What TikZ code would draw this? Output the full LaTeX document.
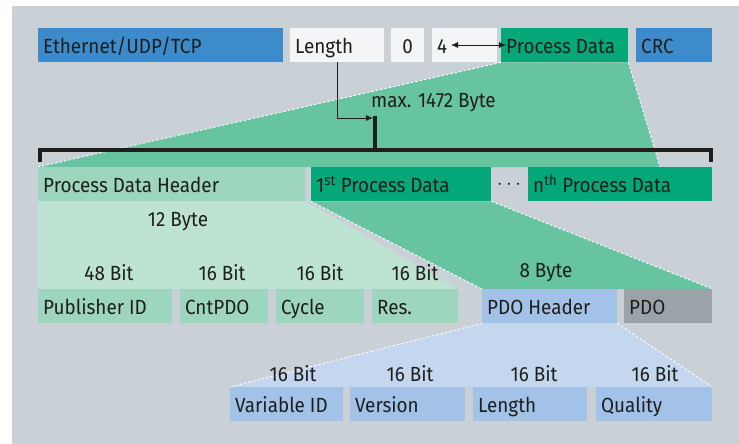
\documentclass[tikz,border=0pt]{standalone}
\usepackage{fontspec}
\setmainfont{Fira Sans}[FakeStretch=0.92]
\usetikzlibrary{arrows.meta}
\pgfdeclarelayer{back}
\pgfdeclarelayer{fan}
\pgfsetlayers{back,fan,main}
\newcommand{\boxtxt}[2]{\makebox[#1][l]{#2}}
\definecolor{bg}{HTML}{C9D0D6}
\definecolor{eblue}{HTML}{3D8BCB}
\definecolor{wbox}{HTML}{F3F5F6}
\definecolor{dgreen}{HTML}{04A777}
\definecolor{mgreen}{HTML}{66C4A0}
\definecolor{lgreen}{HTML}{9DD6BD}
\definecolor{vlgreen}{HTML}{BEE3D2}
\definecolor{lblue}{HTML}{A2C3E7}
\definecolor{vlblue}{HTML}{C4D7EE}
\definecolor{pgray}{HTML}{9BA3A8}
\definecolor{txt}{HTML}{1E1E1E}
\begin{document}
\begin{tikzpicture}[x=1pt,y=-1pt,
  bx/.style={anchor=north west, minimum height=34pt, inner xsep=5pt, inner ysep=0pt,
    text height=19pt, text depth=2pt,
    text=txt, font=\fontsize{20.5}{23}\selectfont},
  lbl/.style={text=txt, inner sep=0pt, font=\fontsize{20.5}{23}\selectfont},
  fanedge/.style={white, line width=0.9pt, dash pattern=on 2.5pt off 2pt},
  arr/.style={line width=0.8pt, txt, -{Latex[length=7pt,width=6pt]}},
  darr/.style={line width=0.8pt, txt, {Latex[length=7pt,width=6pt]}-{Latex[length=7pt,width=6pt]}},
  thick bar/.style={line width=3.5pt, txt}]
\useasboundingbox (0,0) rectangle (739,444);
\begin{pgfonlayer}{back}
\fill[bg] (12,6) rectangle (739,444);
\end{pgfonlayer}

% row 1
\node[bx, fill=eblue] (eth) at (38,28) {\boxtxt{235pt}{Ethernet/UDP/TCP}};
\node[bx, fill=wbox] (len) at (290,28) {\boxtxt{84pt}{Length}};
\node[bx, fill=wbox] (zero) at (391,28) {\makebox[23pt]{0}};
\node[bx, fill=wbox] (four) at (432,28) {\boxtxt{55pt}{4}};
\node[bx, fill=dgreen] (pd) at (501,28) {\boxtxt{117pt}{Process Data}};
\node[bx, fill=eblue] (crc) at (636,28) {\boxtxt{66pt}{CRC}};

% row 2
\node[bx, fill=lgreen] (pdh) at (38,167) {\boxtxt{257pt}{Process Data Header}};
\node[bx, fill=dgreen] (pd1) at (311,167) {\boxtxt{170pt}{1\textsuperscript{st} Process Data}};
\node[lbl] (dots) at (509,185) {$\cdots$};
\node[bx, fill=dgreen] (pdn) at (528,167) {\boxtxt{174pt}{n\textsuperscript{th} Process Data}};

% row 3
\node[bx, fill=lgreen] (pub) at (38,289) {\boxtxt{124pt}{Publisher ID}};
\node[bx, fill=lgreen] (cnt) at (180,289) {\boxtxt{78pt}{CntPDO}};
\node[bx, fill=lgreen] (cyc) at (276,289) {\boxtxt{78pt}{Cycle}};
\node[bx, fill=lgreen] (res) at (372,289) {\boxtxt{76pt}{Res.}};
\node[bx, fill=lblue] (pdoh) at (482,289) {\boxtxt{125pt}{PDO Header}};
\node[bx, fill=pgray] (pdo) at (624,289) {\boxtxt{78pt}{PDO}};

% row 4
\node[bx, fill=lblue] (vid) at (230,387) {\boxtxt{103pt}{Variable ID}};
\node[bx, fill=lblue] (ver) at (350,387) {\boxtxt{105pt}{Version}};
\node[bx, fill=lblue] (len2) at (473,387) {\boxtxt{104pt}{Length}};
\node[bx, fill=lblue] (qual) at (596,387) {\boxtxt{106pt}{Quality}};

% fans
\coordinate (r2r) at (660,167);
\begin{pgfonlayer}{fan}
\fill[mgreen] (pd.south west) -- (pd.south east) -- (r2r) -- (pdh.north west) -- cycle;
\draw[fanedge] (pd.south west) -- (pdh.north west);
\draw[fanedge] (pd.south east) -- (r2r);
\fill[vlgreen] (pdh.south west) -- (pdh.south east) -- (res.north east) -- (pub.north west) -- cycle;
\fill[mgreen] (pd1.south west) -- (pd1.south east) -- (pdo.north east) -- (pdoh.north west) -- cycle;
\draw[fanedge] (pd1.south west) -- (pdoh.north west);
\draw[fanedge] (pd1.south east) -- (pdo.north east);
\fill[vlblue] (pdoh.south west) -- (pdoh.south east) -- (qual.north east) -- (vid.north west) -- cycle;
\draw[fanedge] (pdoh.south west) -- (vid.north west);
\draw[fanedge] (pdoh.south east) -- (qual.north east);
\end{pgfonlayer}

% bracket and length arrow
\coordinate (bl) at (40,162);
\coordinate (br) at (711,162);
\coordinate (mx) at (375,150);
\coordinate (mt) at (375,116);
\draw[thick bar] (bl) |- (mx) -| (br);
\draw[thick bar] (mt) -- (mx);
\coordinate (lenend) at (373,118);
\draw[arr] (len.south) |- (lenend);
\node[lbl, anchor=west] (max) at (371,103) {max. 1472 Byte};

% double arrow 4 <-> Process Data
\coordinate (a4) at (451,45);
\coordinate (apd) at (506,45);
\draw[darr] (a4) -- (apd);

% size labels
\node[lbl] (b12) at (178,222) {12 Byte};
\node[lbl] (b48) at (109,273) {48 Bit};
\node[lbl] (c16a) at (222,273) {16 Bit};
\node[lbl] (c16b) at (320,273) {16 Bit};
\node[lbl] (c16c) at (415,273) {16 Bit};
\node[lbl] (b8) at (546,273) {8 Byte};
\node[lbl] (d16a) at (293,374) {16 Bit};
\node[lbl] (d16b) at (410,374) {16 Bit};
\node[lbl] (d16c) at (534,374) {16 Bit};
\node[lbl] (d16d) at (655,374) {16 Bit};
\end{tikzpicture}
\end{document}
